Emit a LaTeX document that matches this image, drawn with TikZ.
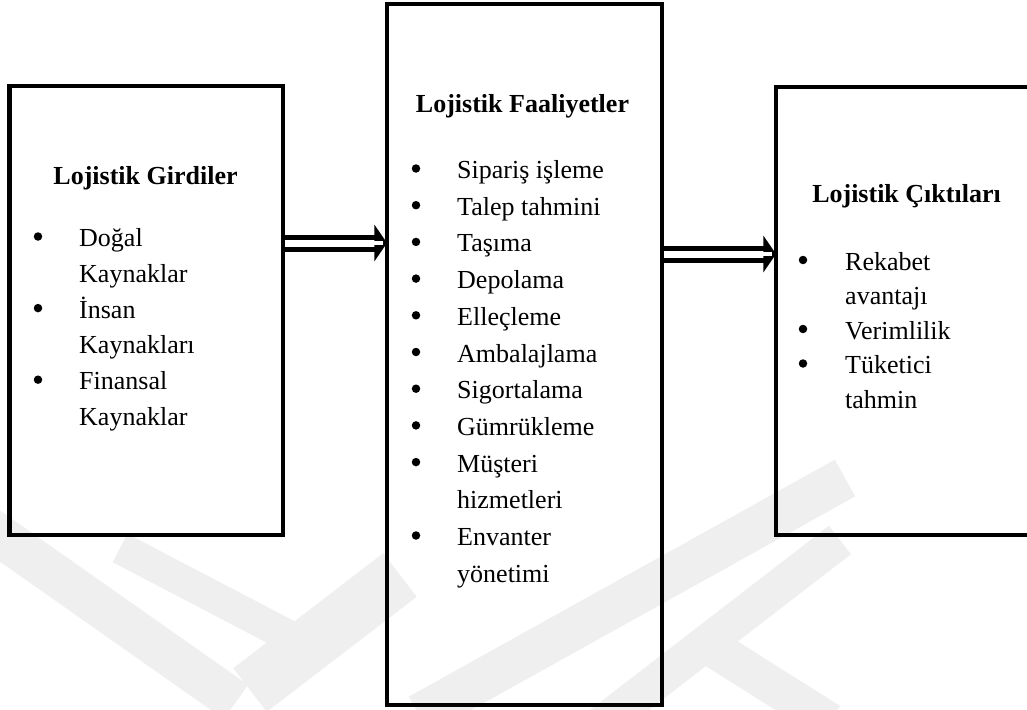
\documentclass[tikz,border=0pt]{standalone}
\usepackage{fontspec}
\setmainfont{Liberation Serif}
\usetikzlibrary{calc}
\definecolor{wmgray}{HTML}{EFEFEF}
\begin{document}
\begin{tikzpicture}[x=1pt,y=-1pt,
  box/.style={draw, line width=4.5pt, inner sep=0pt, outer sep=0pt, rectangle},
  title/.style={font=\fontsize{26}{31}\selectfont\bfseries, anchor=base, inner sep=0pt},
  item/.style={font=\fontsize{26}{31}\selectfont, anchor=base west, inner sep=0pt},
  dot/.style={circle, fill=black, inner sep=0pt, minimum size=8.5pt},
  shaft/.style={line width=5pt, double=white, double distance=7pt, shorten <=2.3pt},
  wm/.style={line width=42pt, draw=wmgray, line cap=butt, line join=miter}
]
\useasboundingbox (0,0) rectangle (1027,709);
\clip (0,0) rectangle (1027,709);

% faint background emblem
\draw[wm] (-20,522) -- (236,702);
\draw[wm, line width=32pt] (120,548) -- (296,640);
\draw[wm, line width=55pt] (250,690) -- (400,575);
\draw[wm] (419,715) -- (845,478);
\draw[wm, line width=36pt] (600,725) -- (840,540);
\draw[wm, line width=38pt] (700,640) -- (830,722);

% the three boxes
\node[box, minimum width=273.5pt, minimum height=449pt] (L) at (146.25,310.5) {};
\node[box, minimum width=275pt, minimum height=701pt] (M) at (524.5,354.5) {};
\node[box, minimum width=269pt, minimum height=448pt] (R) at (910.5,311) {};

% inputs
\node[title] (Lt) at (145.5,184) {Lojistik Girdiler};
\foreach \txt [count=\i from 0] in {Doğal, Kaynaklar, İnsan, Kaynakları, Finansal, Kaynaklar}
  \node[item] (Li\i) at (79,246.5+35.8*\i) {\txt};
\foreach \i in {0,2,4}
  \node[dot] (Lb\i) at (38,236.5+35.8*\i) {};

% activities
\node[title] (Mt) at (522.5,112) {Lojistik Faaliyetler};
\foreach \txt [count=\i from 0] in {Sipariş işleme, Talep tahmini, Taşıma, Depolama, Elleçleme, Ambalajlama, Sigortalama, Gümrükleme, Müşteri, hizmetleri, Envanter, yönetimi}
  \node[item] (Mi\i) at (457,178.5+36.7*\i) {\txt};
\foreach \i in {0,1,2,3,4,5,6,7,8,10}
  \node[dot] (Mb\i) at (416,168.5+36.7*\i) {};

% outputs
\node[title] (Rt) at (906.5,202) {Lojistik Çıktıları};
\foreach \txt [count=\i from 0] in {Rekabet, avantajı, Verimlilik, Tüketici, tahmin}
  \node[item] (Ri\i) at (845,270+34.5*\i) {\txt};
\foreach \i in {0,2,3}
  \node[dot] (Rb\i) at (803,260+34.5*\i) {};

% double arrows between the boxes
\coordinate (a1s) at (L.east |- 0,243);
\coordinate (a1e) at (M.west |- 0,243);
\coordinate (a2s) at (M.east |- 0,254);
\coordinate (a2e) at (R.west |- 0,254);
\foreach \s/\e in {a1s/a1e, a2s/a2e} {
  \draw[shaft] (\s) -- ($(\e)+(-12,0)$);
  \fill ($(\e)+(-12.7,-18.5)$) -- (\e) -- ($(\e)+(-12.7,18.5)$) -- cycle;
  \draw[white, line width=3.5pt] ($(\e)+(-13,0)$) -- ($(\e)+(-4,0)$);
}
\end{tikzpicture}
\end{document}
